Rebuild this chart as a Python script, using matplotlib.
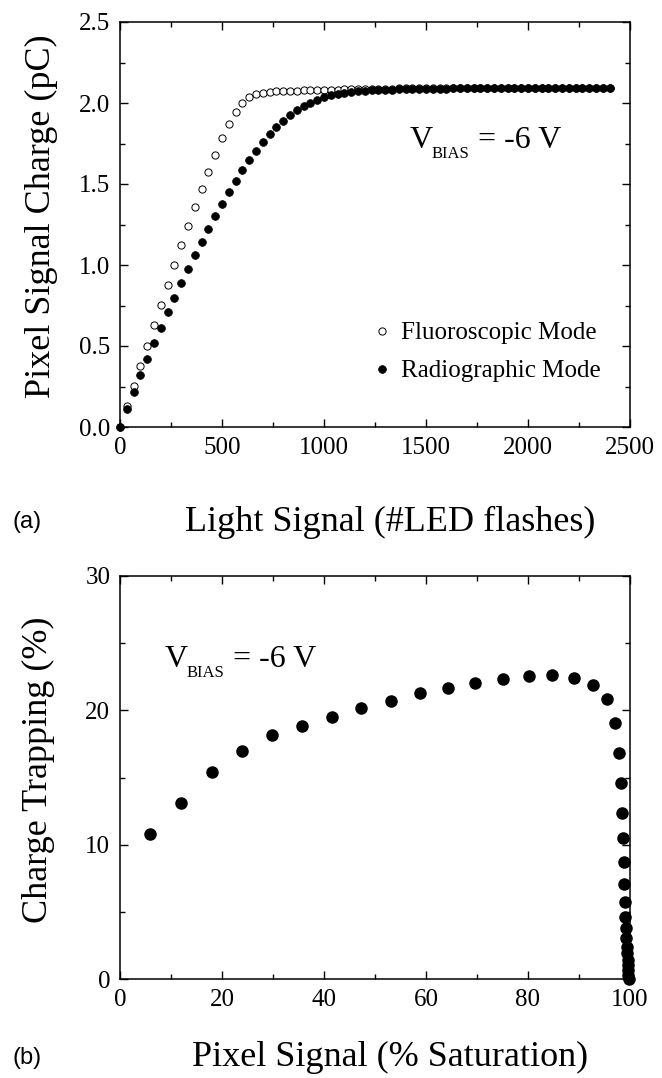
import numpy as np
import matplotlib
matplotlib.use("Agg")
import matplotlib.pyplot as plt
from matplotlib.ticker import MultipleLocator, FormatStrFormatter

# ---- Panel (a): pixel signal charge vs. number of LED flashes ----
n_steps = 72
flashes = np.linspace(0, 2400, n_steps + 1)

fluoro_charge = [
    0.000, 0.130, 0.254, 0.378, 0.502, 0.628, 0.752, 0.876, 1.000, 1.121,
    1.242, 1.360, 1.469, 1.576, 1.682, 1.783, 1.873, 1.947, 2.002, 2.035,
    2.053, 2.064, 2.068, 2.071, 2.073, 2.075, 2.077, 2.078, 2.079, 2.080,
    2.081, 2.082, 2.083, 2.084, 2.085, 2.086, 2.087, 2.088, 2.088, 2.089,
    2.089, 2.090, 2.090, 2.090, 2.090, 2.090, 2.090, 2.090, 2.090, 2.090,
    2.090, 2.090, 2.090, 2.090, 2.090, 2.090, 2.090, 2.090, 2.090, 2.090,
    2.090, 2.090, 2.090, 2.090, 2.090, 2.090, 2.090, 2.090, 2.090, 2.090,
    2.090, 2.090, 2.090,
]

radio_charge = [
    0.000, 0.110, 0.219, 0.324, 0.417, 0.517, 0.614, 0.707, 0.798, 0.888,
    0.975, 1.062, 1.143, 1.222, 1.302, 1.378, 1.451, 1.518, 1.584, 1.648,
    1.705, 1.760, 1.807, 1.852, 1.889, 1.924, 1.955, 1.980, 2.002, 2.020,
    2.037, 2.049, 2.057, 2.063, 2.068, 2.072, 2.075, 2.078, 2.080, 2.082,
    2.083, 2.084, 2.085, 2.086, 2.087, 2.088, 2.088, 2.089, 2.089, 2.090,
    2.090, 2.090, 2.090, 2.090, 2.090, 2.090, 2.090, 2.090, 2.090, 2.090,
    2.090, 2.090, 2.090, 2.090, 2.090, 2.090, 2.090, 2.090, 2.090, 2.090,
    2.090, 2.090, 2.090,
]

# ---- Panel (b): charge trapping vs. pixel signal ----
pixel_signal = [
    5.9, 11.9, 18.0, 23.9, 29.8, 35.6, 41.5, 47.3, 53.1, 58.9,
    64.4, 69.7, 75.0, 80.1, 84.8, 89.1, 92.7, 95.4, 97.1, 97.8,
    98.2, 98.4, 98.6, 98.8, 98.9, 99.0, 99.1, 99.2, 99.3, 99.4,
    99.5, 99.55, 99.6, 99.65, 99.7, 99.75,
]
charge_trapping = [
    10.8, 13.13, 15.44, 17.0, 18.2, 18.85, 19.53, 20.15, 20.66, 21.28,
    21.67, 22.01, 22.33, 22.56, 22.60, 22.43, 21.89, 20.81, 19.02, 16.8,
    14.57, 12.38, 10.47, 8.71, 7.07, 5.71, 4.64, 3.77, 3.03, 2.4,
    1.91, 1.41, 1.04, 0.67, 0.3, 0.0,
]

SERIF = ["Liberation Serif", "DejaVu Serif"]
SANS = ["Liberation Sans", "DejaVu Sans"]
plt.rcParams["font.family"] = SERIF

TICK_FS = 18
LABEL_FS = 26

W, H = 662, 1078
fig = plt.figure(figsize=(W / 100, H / 100), dpi=100)


def px_axes(x0, y0, x1, y1):
    return fig.add_axes([x0 / W, 1 - y1 / H, (x1 - x0) / W, (y1 - y0) / H])


def style_axes(ax):
    for s in ax.spines.values():
        s.set_linewidth(1.1)
    ax.tick_params(which="both", direction="in", top=True, right=True,
                   labelsize=TICK_FS, width=1.0)
    ax.tick_params(which="major", length=6, pad=7)
    ax.tick_params(which="minor", length=3.5)


def vbias(ax, x, y):
    # "V" with a small "BIAS" subscript followed by "= -6 V"
    ax.annotate("V", xy=(x, y), xycoords="axes fraction", fontsize=23,
                ha="left", va="baseline")
    ax.annotate("BIAS", xy=(x, y), xycoords="axes fraction",
                xytext=(15.5, -7), textcoords="offset points",
                fontsize=12, ha="left", va="baseline")
    ax.annotate("= -6 V", xy=(x, y), xycoords="axes fraction",
                xytext=(49, 0), textcoords="offset points",
                fontsize=23, ha="left", va="baseline")


# ---------------- Panel (a) ----------------
ax1 = px_axes(120, 22, 630, 427)
style_axes(ax1)
ax1.plot(flashes, fluoro_charge, linestyle="none", marker="o",
         markersize=5.2, markerfacecolor="white", markeredgecolor="black",
         markeredgewidth=0.7, clip_on=False, zorder=3,
         label="Fluoroscopic Mode")
ax1.plot(flashes, radio_charge, linestyle="none", marker="o",
         markersize=5.6, markerfacecolor="black", markeredgecolor="black",
         markeredgewidth=0.5, clip_on=False, zorder=4,
         label="Radiographic Mode")
ax1.set_xlim(0, 2500)
ax1.set_ylim(0, 2.5)
ax1.xaxis.set_major_locator(MultipleLocator(500))
ax1.xaxis.set_minor_locator(MultipleLocator(250))
ax1.yaxis.set_major_locator(MultipleLocator(0.5))
ax1.yaxis.set_minor_locator(MultipleLocator(0.25))
ax1.yaxis.set_major_formatter(FormatStrFormatter("%.1f"))
ax1.set_xlabel("Light Signal (#LED flashes)", fontsize=LABEL_FS)
ax1.set_ylabel("Pixel Signal Charge (pC)", fontsize=LABEL_FS)
ax1.xaxis.set_label_coords((390 - 120) / 510, -(522 - 427) / 405)
ax1.yaxis.set_label_coords(-(120 - 41) / 510, 0.52)
ax1.xaxis.label.set_va("center")
ax1.yaxis.label.set_va("center")
ax1.legend(loc="center left", bbox_to_anchor=(0.49, 0.185), frameon=False,
           fontsize=TICK_FS, handletextpad=0.25, handlelength=1.0,
           labelspacing=0.62, borderpad=0, borderaxespad=0)
vbias(ax1, (410 - 120) / 510, (427 - 148) / 405)
fig.text(13 / W, 1 - 522 / H, "(a)", family=SANS, fontsize=17,
         ha="left", va="center")

# ---------------- Panel (b) ----------------
ax2 = px_axes(120, 576, 630, 979)
style_axes(ax2)
ax2.plot(pixel_signal, charge_trapping, linestyle="none", marker="o",
         markersize=8, markerfacecolor="black", markeredgecolor="black",
         clip_on=False, zorder=3)
ax2.set_xlim(0, 100)
ax2.set_ylim(0, 30)
ax2.xaxis.set_major_locator(MultipleLocator(20))
ax2.xaxis.set_minor_locator(MultipleLocator(10))
ax2.yaxis.set_major_locator(MultipleLocator(10))
ax2.yaxis.set_minor_locator(MultipleLocator(5))
ax2.set_xlabel("Pixel Signal (% Saturation)", fontsize=LABEL_FS)
ax2.set_ylabel("Charge Trapping (%)", fontsize=LABEL_FS)
ax2.xaxis.set_label_coords((390 - 120) / 510, -(1057 - 979) / 403)
ax2.yaxis.set_label_coords(-(120 - 38) / 510, 0.52)
ax2.xaxis.label.set_va("center")
ax2.yaxis.label.set_va("center")
vbias(ax2, (165 - 120) / 510, (979 - 667) / 403)
fig.text(13 / W, 1 - 1058 / H, "(b)", family=SANS, fontsize=17,
         ha="left", va="center")

fig.savefig("out.png", dpi=100)
